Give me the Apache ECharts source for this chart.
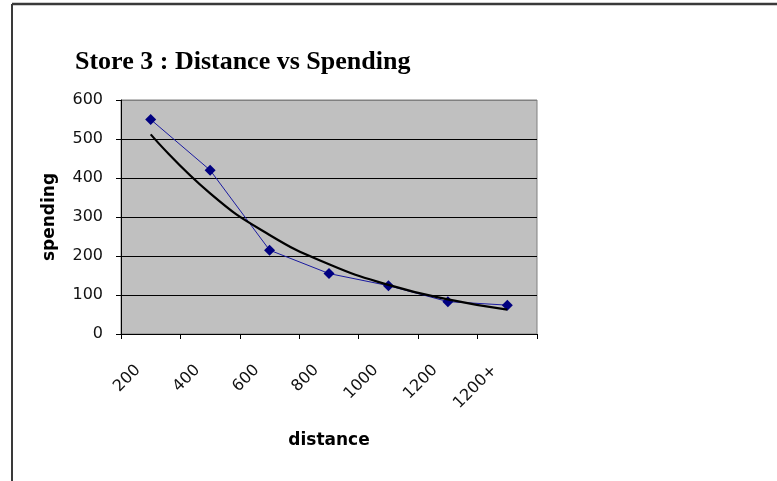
<!DOCTYPE html>
<html>
<head>
<meta charset="utf-8">
<script src="https://cdn.jsdelivr.net/npm/echarts@6/dist/echarts.min.js"></script>
<style>
  html, body { margin: 0; padding: 0; background: #ffffff; }
  #chart { width: 777px; height: 481px; }
</style>
</head>
<body>
<div id="chart"></div>
<script>
// Distance bands and average spending per band
const distances = ['200', '400', '600', '800', '1000', '1200', '1200+'];
const spending = [550, 420, 215, 155, 124, 83, 74];
const yTicks = { min: 0, max: 600, interval: 100 };

// Exponential trendline y = a * e^(b * k), least squares on ln(spending), k = 1..n
function expTrend(values) {
  const n = values.length;
  let sx = 0, sy = 0, sxx = 0, sxy = 0;
  values.forEach(function (v, i) {
    const x = i + 1, y = Math.log(v);
    sx += x; sy += y; sxx += x * x; sxy += x * y;
  });
  const b = (n * sxy - sx * sy) / (n * sxx - sx * sx);
  const lnA = (sy - b * sx) / n;
  return values.map(function (v, i) { return Math.exp(lnA + b * (i + 1)); });
}
const trend = expTrend(spending);

// Gridlines are black; the top one sits on the grey plot border
const gridColors = [];
for (let v = yTicks.min; v <= yTicks.max; v += yTicks.interval) {
  gridColors.push(v === yTicks.max ? '#808080' : '#000000');
}

const sans = '"DejaVu Sans", Verdana, sans-serif';
const chart = echarts.init(document.getElementById('chart'), null, { renderer: 'canvas' });

chart.setOption({
  backgroundColor: '#ffffff',
  animation: false,
  graphic: [
    { type: 'line', shape: { x1: 12, y1: 4, x2: 777, y2: 4 }, style: { stroke: '#3a3a3a', lineWidth: 2.5 } },
    { type: 'line', shape: { x1: 12, y1: 4, x2: 12, y2: 481 }, style: { stroke: '#3a3a3a', lineWidth: 2 } },
    {
      type: 'text', left: 75, top: 49,
      style: {
        text: 'Store 3 : Distance vs Spending',
        font: 'bold 26px "Liberation Serif", "Times New Roman", serif',
        fill: '#000000'
      }
    }
  ],
  grid: {
    left: 121, right: 240, top: 100, bottom: 147,
    show: true, backgroundColor: '#c0c0c0', borderColor: '#808080', borderWidth: 1
  },
  xAxis: {
    type: 'category',
    data: distances,
    boundaryGap: true,
    name: 'distance',
    nameLocation: 'middle',
    nameGap: 98,
    nameTextStyle: { fontFamily: sans, fontWeight: 'bold', fontSize: 17, color: '#000' },
    axisLine: { lineStyle: { color: '#000', width: 1 } },
    axisTick: { show: true, alignWithLabel: false, length: 5, lineStyle: { color: '#000' } },
    axisLabel: {
      rotate: 45, margin: 21, padding: [0, 18, 0, 0],
      fontFamily: sans, fontSize: 16, color: '#111'
    },
    splitLine: { show: false }
  },
  yAxis: {
    type: 'value',
    min: yTicks.min, max: yTicks.max, interval: yTicks.interval,
    name: 'spending',
    nameLocation: 'middle',
    nameGap: 63,
    nameRotate: 90,
    nameTextStyle: { fontFamily: sans, fontWeight: 'bold', fontSize: 17, color: '#000' },
    axisLine: { show: true, lineStyle: { color: '#000', width: 1 } },
    axisTick: { show: true, inside: false, length: 5, lineStyle: { color: '#000' } },
    axisLabel: { margin: 18, fontFamily: sans, fontSize: 16, color: '#111' },
    splitLine: { show: true, lineStyle: { color: gridColors, width: 1 } }
  },
  series: [
    {
      name: 'spending',
      type: 'line',
      data: spending,
      lineStyle: { color: '#1a1aa0', width: 1 },
      itemStyle: { color: '#000080' },
      symbol: 'diamond',
      symbolSize: 11,
      z: 3
    },
    {
      name: 'Expon. (spending)',
      type: 'line',
      data: trend,
      smooth: true,
      showSymbol: false,
      lineStyle: { color: '#000000', width: 2.2 },
      z: 4
    }
  ]
});
</script>
</body>
</html>
